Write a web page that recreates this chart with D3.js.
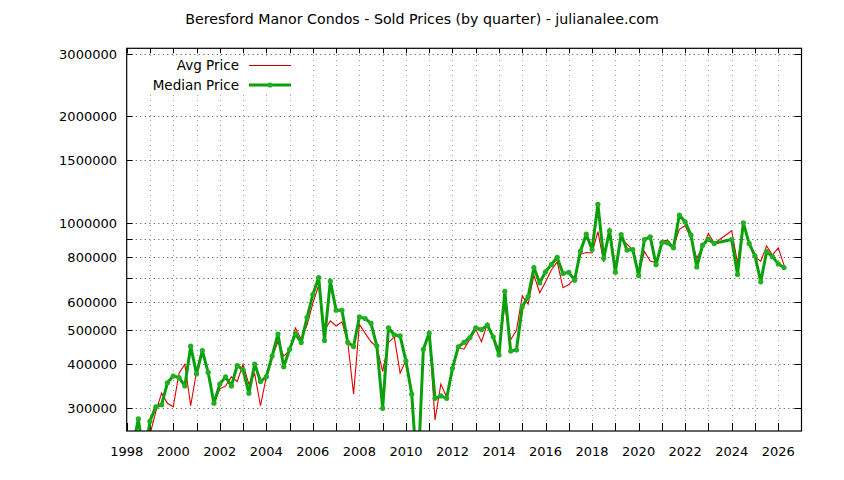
<!DOCTYPE html>
<html>
<head>
<meta charset="utf-8">
<script src="https://cdn.jsdelivr.net/npm/d3@7"></script>
<style>
  html, body { margin: 0; padding: 0; background: #fff; }
  svg { display: block; }
  text { font-family: "DejaVu Sans", sans-serif; fill: #000; }
</style>
</head>
<body>
<svg id="chart" width="844" height="480"></svg>
<script>
// ---- data ----
const titleText = "Beresford Manor Condos - Sold Prices (by quarter) - julianalee.com";
const seriesNames = ["Avg Price", "Median Price"];

const quarters = [
  1998.0, 1998.25, 1998.5, 1998.75,
  1999.0, 1999.25, 1999.5, 1999.75,
  2000.0, 2000.25, 2000.5, 2000.75,
  2001.0, 2001.25, 2001.5, 2001.75,
  2002.0, 2002.25, 2002.5, 2002.75,
  2003.0, 2003.25, 2003.5, 2003.75,
  2004.0, 2004.25, 2004.5, 2004.75,
  2005.0, 2005.25, 2005.5, 2005.75,
  2006.0, 2006.25, 2006.5, 2006.75,
  2007.0, 2007.25, 2007.5, 2007.75,
  2008.0, 2008.25, 2008.5, 2008.75,
  2009.0, 2009.25, 2009.5, 2009.75,
  2010.0, 2010.25, 2010.5, 2010.75,
  2011.0, 2011.25, 2011.5, 2011.75,
  2012.0, 2012.25, 2012.5, 2012.75,
  2013.0, 2013.25, 2013.5, 2013.75,
  2014.0, 2014.25, 2014.5, 2014.75,
  2015.0, 2015.25, 2015.5, 2015.75,
  2016.0, 2016.25, 2016.5, 2016.75,
  2017.0, 2017.25, 2017.5, 2017.75,
  2018.0, 2018.25, 2018.5, 2018.75,
  2019.0, 2019.25, 2019.5, 2019.75,
  2020.0, 2020.25, 2020.5, 2020.75,
  2021.0, 2021.25, 2021.5, 2021.75,
  2022.0, 2022.25, 2022.5, 2022.75,
  2023.0, 2023.25,
  2024.0, 2024.25, 2024.5, 2024.75,
  2025.0, 2025.25, 2025.5, 2025.75,
  2026.0, 2026.25
];

const avgPrice = [
  235000, 230000, 280000, 215000,
  253000, 293000, 331000, 310000,
  303000, 377000, 399000, 305000,
  380000, 442000, 379000, 310000,
  340000, 347000, 368000, 357000,
  399000, 351000, 375000, 305000,
  368000, 420000, 462000, 421000,
  437000, 505000, 470000, 515000,
  593000, 667000, 498000, 529000,
  512000, 526000, 462000, 329000,
  517000, 488000, 462000, 447000,
  381000, 460000, 477000, 377000,
  410000, 329000, 188000, 440000,
  489000, 278000, 351000, 323000,
  389000, 443000, 441000, 470000,
  500000, 462000, 521000, 477000,
  438000, 586000, 468000, 498000,
  622000, 590000, 712000, 635000,
  681000, 736000, 776000, 656000,
  670000, 697000, 815000, 825000,
  822000, 945000, 776000, 970000,
  752000, 903000, 871000, 838000,
  720000, 829000, 780000, 771000,
  889000, 893000, 855000, 959000,
  982000, 903000, 794000, 855000,
  933000, 875000,
  950000, 771000, 1000000, 870000,
  800000, 780000, 861000, 811000,
  850000, 760000
];

const medianPrice = [
  235000, 230000, 280000, 215000,
  276000, 303000, 307000, 354000,
  370000, 366000, 347000, 449000,
  375000, 436000, 379000, 310000,
  351000, 368000, 347000, 396000,
  385000, 331000, 400000, 357000,
  368000, 421000, 486000, 393000,
  440000, 487000, 460000, 541000,
  628000, 701000, 466000, 685000,
  567000, 567000, 460000, 448000,
  543000, 537000, 521000, 450000,
  300000, 506000, 483000, 480000,
  408000, 329000, 188000, 440000,
  489000, 320000, 325000, 320000,
  389000, 447000, 460000, 475000,
  506000, 500000, 515000, 477000,
  424000, 641000, 435000, 438000,
  580000, 619000, 748000, 677000,
  728000, 763000, 799000, 720000,
  725000, 689000, 832000, 929000,
  841000, 1128000, 794000, 950000,
  726000, 927000, 838000, 841000,
  710000, 897000, 913000, 762000,
  880000, 878000, 850000, 1052000,
  1006000, 923000, 751000, 865000,
  899000, 875000,
  897000, 715000, 1000000, 875000,
  807000, 682000, 829000, 803000,
  766000, 748000
];

const xTickYears = [1998, 2000, 2002, 2004, 2006, 2008, 2010, 2012, 2014, 2016, 2018, 2020, 2022, 2024, 2026];
const xMinorYears = [1999, 2001, 2003, 2005, 2007, 2009, 2011, 2013, 2015, 2017, 2019, 2021, 2023, 2025];
const yTickValues = [300000, 400000, 500000, 600000, 800000, 1000000, 1500000, 2000000, 3000000];
const yMinorValues = [700000, 900000];

// ---- layout ----
const svg = d3.select("#chart");
const L = 126.7, R = 801.5, T = 48.3, B = 431;

const x = d3.scaleLinear().domain([1998, 2027]).range([L, R]);
const y = d3.scaleLog().domain([258900, 3105000]).range([B, T]);

// clip
svg.append("defs").append("clipPath").attr("id", "plotclip")
  .append("rect").attr("x", L).attr("y", T).attr("width", R - L).attr("height", B - T);

// grid
const grid = svg.append("g");
grid.selectAll("line.vg").data(xTickYears.concat(xMinorYears).filter(d => d > 1998))
  .join("line").attr("class", "vg")
  .attr("x1", d => Math.round(x(d)) + 0.5).attr("x2", d => Math.round(x(d)) + 0.5)
  .attr("y1", B).attr("y2", T)
  .attr("stroke", "#a0a0a0").attr("stroke-width", 1).attr("stroke-dasharray", "1,4");
grid.selectAll("line.hg").data(yTickValues.concat(yMinorValues))
  .join("line").attr("class", "hg")
  .attr("x1", L).attr("x2", R)
  .attr("y1", d => Math.round(y(d)) + 0.5).attr("y2", d => Math.round(y(d)) + 0.5)
  .attr("stroke", "#606060").attr("stroke-width", 1).attr("stroke-dasharray", "1.2,3.3");

// ticks (inward, mirrored)
const ticks = svg.append("g").attr("stroke", "#000").attr("stroke-width", 1);
xTickYears.concat(xMinorYears).forEach(d => {
  const px = Math.round(x(d)) + 0.5;
  ticks.append("line").attr("x1", px).attr("x2", px).attr("y1", B).attr("y2", B - 8);
  ticks.append("line").attr("x1", px).attr("x2", px).attr("y1", T).attr("y2", T + 5);
});
yTickValues.concat(yMinorValues).forEach(d => {
  const py = Math.round(y(d)) + 0.5;
  ticks.append("line").attr("x1", L).attr("x2", L + 6).attr("y1", py).attr("y2", py);
  ticks.append("line").attr("x1", R).attr("x2", R - 7).attr("y1", py).attr("y2", py);
});

// tick labels
svg.append("g").selectAll("text").data(xTickYears).join("text")
  .attr("x", d => x(d)).attr("y", 456).attr("text-anchor", "middle")
  .attr("font-size", 13).text(d => d);
svg.append("g").selectAll("text").data(yTickValues).join("text")
  .attr("x", 117).attr("y", d => y(d) + 5).attr("text-anchor", "end")
  .attr("font-size", 13).text(d => d);

// title
svg.append("text").attr("x", 422).attr("y", 24).attr("text-anchor", "middle")
  .attr("font-size", 14.2).text(titleText);

// series
const lineGen = d3.line().x(d => x(d[0])).y(d => y(d[1]));
const avgData = quarters.map((q, i) => [q, avgPrice[i]]);
const medData = quarters.map((q, i) => [q, medianPrice[i]]);

const plot = svg.append("g").attr("clip-path", "url(#plotclip)");
plot.append("path").datum(avgData).attr("d", lineGen)
  .attr("fill", "none").attr("stroke", "#e00000").attr("stroke-width", 1.1)
  .attr("stroke-linejoin", "miter");
plot.append("path").datum(medData).attr("d", lineGen)
  .attr("fill", "none").attr("stroke", "#0aa00a").attr("stroke-width", 3)
  .attr("stroke-linejoin", "round");
plot.selectAll("circle").data(medData).join("circle")
  .attr("cx", d => x(d[0])).attr("cy", d => y(d[1])).attr("r", 2.6)
  .attr("fill", "#22b022");

// legend (opaque key)
const key = svg.append("g");
key.append("rect").attr("x", L + 1).attr("y", 56).attr("width", 172).attr("height", 38).attr("fill", "#fff");
key.append("text").attr("x", 239).attr("y", 70).attr("text-anchor", "end").attr("font-size", 13.5).text(seriesNames[0]);
key.append("line").attr("x1", 249).attr("x2", 291).attr("y1", 65.5).attr("y2", 65.5)
  .attr("stroke", "#c00000").attr("stroke-width", 1);
key.append("text").attr("x", 239).attr("y", 90).attr("text-anchor", "end").attr("font-size", 13.5).text(seriesNames[1]);
key.append("line").attr("x1", 249).attr("x2", 291).attr("y1", 85).attr("y2", 85)
  .attr("stroke", "#0aa00a").attr("stroke-width", 3);
key.append("circle").attr("cx", 270).attr("cy", 85).attr("r", 2.6).attr("fill", "#22b022");

// border
svg.append("rect").attr("x", L).attr("y", T).attr("width", R - L).attr("height", B - T)
  .attr("fill", "none").attr("stroke", "#000").attr("stroke-width", 1.2);
</script>
</body>
</html>
